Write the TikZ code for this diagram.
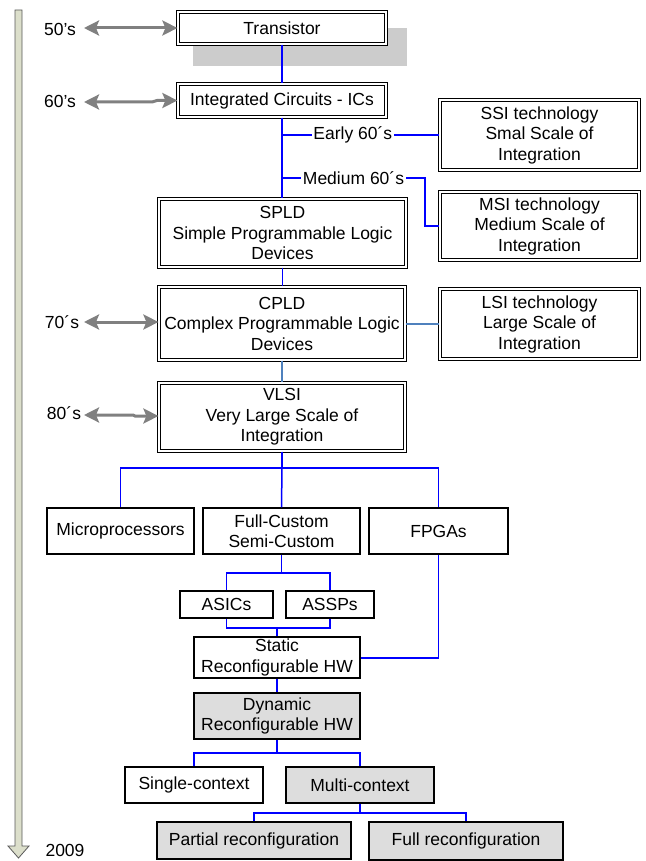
\documentclass[tikz,border=0pt]{standalone}
\usepackage{fontspec}
\setmainfont{Liberation Sans}
\usetikzlibrary{arrows.meta}
\definecolor{lblue}{HTML}{4F81BD}
\definecolor{shadowgray}{HTML}{CCCCCC}
\definecolor{boxgray}{HTML}{DDDDDD}
\definecolor{tline}{HTML}{DCDFCB}
\tikzset{
  dbox/.style={draw=black, line width=1.2pt, double=white, double distance=1.8pt, fill=white, align=center, inner sep=0pt},
  sbox/.style={draw=black, line width=1.2pt, fill=white, align=center, inner sep=0pt},
  gbox/.style={sbox, fill=boxgray},
  conn/.style={draw=blue, line width=1.5pt},
  lconn/.style={draw=lblue, line width=1.3pt},
  era/.style={draw=gray, line width=3pt, {Stealth[length=15pt,width=15pt,inset=3pt]}-{Stealth[length=15pt,width=15pt,inset=3pt]}},
  lbl/.style={fill=white, inner sep=1.5pt},
  yr/.style={inner sep=0pt}
}
\begin{document}
\begin{tikzpicture}[x=1pt,y=-1pt,font=\fontsize{17.5}{20.5}\selectfont]
\useasboundingbox (0,0) rectangle (645,861);
% timeline
\draw[draw=black!65, line width=0.8pt, fill=tline] (15,10) -- (22,10) -- (22,846) -- (29,846) -- (18.5,858) -- (8,846) -- (15,846) -- cycle;
% shadow
\fill[shadowgray] (193,28) rectangle (407,66);
% double boxes
\node[dbox, minimum width=208, minimum height=32] (tr) at (282,28) {Transistor};
\node[dbox, minimum width=208, minimum height=33] (ic) at (282,100.5) {Integrated Circuits - ICs};
\node[dbox, minimum width=199, minimum height=70] (ssi) at (539.5,135) {SSI technology\\Smal Scale of\\Integration};
\node[dbox, minimum width=199, minimum height=68] (msi) at (539.5,226) {MSI technology\\Medium Scale of\\Integration};
\node[dbox, minimum width=247, minimum height=68] (spld) at (282.5,233) {SPLD\\Simple Programmable Logic\\Devices};
\node[dbox, minimum width=246, minimum height=73] (cpld) at (282,323.5) {CPLD\\Complex Programmable Logic\\Devices};
\node[dbox, minimum width=199, minimum height=70] (lsi) at (539.5,324) {LSI technology\\Large Scale of\\Integration};
\node[dbox, minimum width=246, minimum height=68] (vlsi) at (282,417) {VLSI\\Very Large Scale of\\Integration};
% single boxes
\node[sbox, minimum width=147, minimum height=46] (mp) at (120.5,531) {Microprocessors};
\node[sbox, minimum width=157, minimum height=46] (fc) at (281.5,531) {Full-Custom\\Semi-Custom};
\node[sbox, minimum width=139, minimum height=46] (fp) at (438.5,531) {FPGAs};
\node[sbox, minimum width=93, minimum height=27] (asic) at (226.5,604.5) {ASICs};
\node[sbox, minimum width=88, minimum height=27] (assp) at (330,604.5) {ASSPs};
\node[sbox, minimum width=166, minimum height=41] (st) at (277,657.5) {Static\\Reconfigurable HW};
\node[gbox, minimum width=166, minimum height=46] (dy) at (277,716) {Dynamic\\Reconfigurable HW};
\node[sbox, minimum width=138, minimum height=36] (sc) at (194,785) {Single-context};
\node[gbox, minimum width=148, minimum height=36] (mc) at (360,785) {Multi-context};
\node[gbox, minimum width=194, minimum height=37] (pr) at (254,840.5) {Partial reconfiguration};
\node[gbox, minimum width=194, minimum height=38] (fr) at (466,841) {Full reconfiguration};
% era labels
\node[yr] (y50) at (60,29) {50's};
\node[yr] (y60) at (60,101) {60's};
\node[yr] (y70) at (62,322) {70´s};
\node[yr] (y80) at (64,413) {80´s};
\node[yr] (y09) at (65,850) {2009};
% era arrows
\draw[era] (84,28) -- (tr.west);
\draw[era] (84,102) -- (152,102) -- (157,100.5) -- (ic.west);
\draw[era] (84,322) -- (cpld.west |- 0,322);
\draw[era] (84,415) -- (133,415) -- (135,416) -- (vlsi.west |- 0,416);
% connectors
\draw[conn] (tr.south) -- (ic.north);
\draw[conn] (ic.south) -- (ic.south |- spld.north);
\coordinate (e1) at (ic.south |- ssi.west);
\draw[conn] (e1) -- node[lbl, pos=0.45] (early) {Early 60´s} (ssi.west);
\coordinate (m1) at (282,178);
\coordinate (m2) at (425,178);
\draw[conn] (m1) -- node[lbl, pos=0.5] (medium) {Medium 60´s} (m2) |- (msi.west);
\draw[conn] (spld.south) -- (spld.south |- cpld.north);
\draw[lconn] (cpld.east |- lsi.west) -- (lsi.west);
\draw[lconn] (cpld.south) -- (vlsi.north);
\coordinate (v1) at (282,468);
\draw[conn] (vlsi.south) -- (v1);
\draw[conn] (mp.north) -- (mp.north |- v1) -- (fp.north |- v1) -- (fp.north);
\draw[conn] (v1) -- (fc.north);
\coordinate (f1) at (281.5,573);
\draw[conn] (fc.south) -- (f1);
\draw[conn] (asic.north) -- (asic.north |- f1) -- (assp.north |- f1) -- (assp.north);
\coordinate (a1) at (277,628);
\draw[conn] (asic.south) -- (asic.south |- a1) -- (assp.south |- a1) -- (assp.south);
\draw[conn] (a1) -- (st.north);
\draw[conn] (fp.south) |- (st.east |- 0,658);
\draw[conn] (st.south) -- (dy.north);
\coordinate (d1) at (277,753);
\draw[conn] (dy.south) -- (d1);
\draw[conn] (sc.north) -- (sc.north |- d1) -- (mc.north |- d1) -- (mc.north);
\coordinate (c1) at (360,813);
\draw[conn] (mc.south) -- (c1);
\draw[conn] (pr.north) -- (pr.north |- c1) -- (fr.north |- c1) -- (fr.north);
\end{tikzpicture}
\end{document}
